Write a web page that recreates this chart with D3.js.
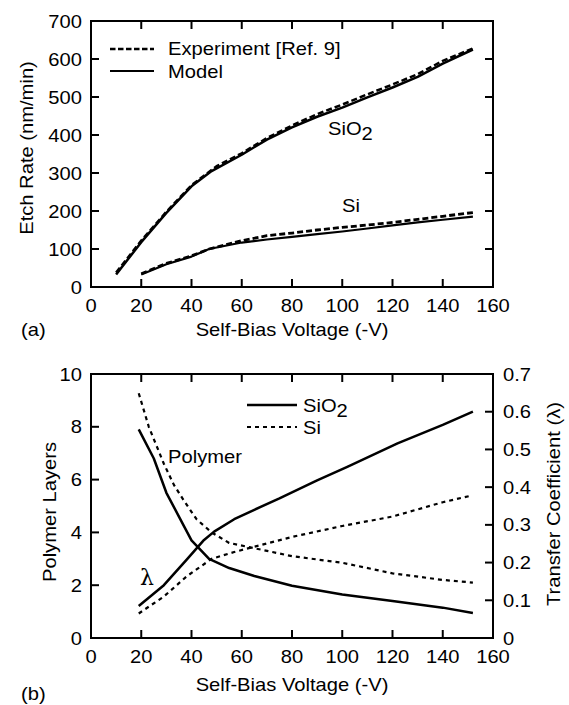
<!DOCTYPE html>
<html>
<head>
<meta charset="utf-8">
<script src="https://cdn.jsdelivr.net/npm/d3@7"></script>
<style>
  body { margin: 0; background: #fff; }
  text { font-family: "Liberation Sans", Arial, sans-serif; fill: #000; }
</style>
</head>
<body>
<div id="chart"></div>
<script>
// ---- data ----
var siO2ExpV   = [10, 20, 30, 40, 50, 60, 70, 80, 90, 100, 110, 120, 130, 140, 152];
var siO2ExpR   = [38, 122, 198, 268, 318, 352, 392, 425, 455, 480, 507, 533, 560, 595, 628];
var siO2ModV   = [10, 20, 30, 40, 48, 60, 70, 80, 90, 100, 110, 120, 130, 140, 152];
var siO2ModR   = [33, 118, 195, 265, 305, 348, 388, 420, 448, 472, 499, 525, 553, 588, 625];
var siExpV     = [20, 30, 40, 47, 60, 70, 80, 90, 100, 110, 120, 130, 140, 152];
var siExpR     = [35, 62, 82, 100, 122, 135, 142, 150, 157, 163, 170, 178, 186, 196];
var siModV     = [20, 30, 40, 47, 60, 70, 80, 90, 100, 110, 120, 130, 140, 152];
var siModR     = [33, 60, 80, 100, 117, 125, 132, 139, 146, 154, 162, 170, 177, 185];

var polySiO2V  = [19, 25, 30, 35, 40, 47, 55, 65, 80, 100, 120, 140, 152];
var polySiO2   = [7.9, 6.8, 5.5, 4.6, 3.7, 3.0, 2.65, 2.35, 1.98, 1.65, 1.4, 1.15, 0.95];
var polySiV    = [19, 23, 29, 33, 37, 42, 48, 55, 65, 80, 100, 120, 140, 152];
var polySi     = [9.27, 8.0, 6.6, 5.8, 5.2, 4.5, 4.0, 3.6, 3.4, 3.1, 2.85, 2.45, 2.2, 2.1];
var lamSiO2V   = [19, 29, 38, 45, 49, 57, 65, 75, 90, 102, 122, 140, 152];
var lamSiO2    = [0.085, 0.14, 0.207, 0.26, 0.282, 0.315, 0.34, 0.37, 0.418, 0.454, 0.516, 0.565, 0.60];
var lamSiV     = [19, 29, 38, 48, 57, 65, 80, 100, 120, 140, 151];
var lamSi      = [0.065, 0.11, 0.163, 0.21, 0.228, 0.242, 0.268, 0.297, 0.322, 0.36, 0.377];

var xTicks = [0, 20, 40, 60, 80, 100, 120, 140, 160];
var rateTicks = [0, 100, 200, 300, 400, 500, 600, 700];
var layerTicks = [0, 2, 4, 6, 8, 10];
var lamTicks = [0, 0.1, 0.2, 0.3, 0.4, 0.5, 0.6, 0.7];

var W = 569, H = 705;
var fs = 18, sx = 1.12;   // scanned text looks slightly wide

var svg = d3.select("#chart").append("svg")
    .attr("width", W)
    .attr("height", H);

function label(g, x, y, str, anchor, rot) {
    var t = g.append("g")
        .attr("transform", "translate(" + x + "," + y + ")" + (rot ? " rotate(" + rot + ")" : "") + " scale(" + sx + ",1)")
        .append("text")
        .attr("font-size", fs)
        .attr("text-anchor", anchor || "start")
        .text(str);
    return t;
}

function pts(xs, ys) { return xs.map((v, i) => [v, ys[i]]); }

function frame(box, x, yL, yR, leftTicks, rightTicks, leftFmt, rightFmt) {
    var g = svg.append("g");
    var tl = 8;
    // inward ticks on all four sides
    g.selectAll(".xb").data(xTicks.slice(1, -1)).enter().append("line")
        .attr("x1", d => x(d)).attr("x2", d => x(d))
        .attr("y1", box.b).attr("y2", box.b - tl);
    g.selectAll(".xt").data(xTicks.slice(1, -1)).enter().append("line")
        .attr("x1", d => x(d)).attr("x2", d => x(d))
        .attr("y1", box.t).attr("y2", box.t + tl);
    g.selectAll(".yl").data(leftTicks.slice(1, -1)).enter().append("line")
        .attr("x1", box.l).attr("x2", box.l + tl)
        .attr("y1", d => yL(d)).attr("y2", d => yL(d));
    g.selectAll(".yr").data(rightTicks.slice(1, -1)).enter().append("line")
        .attr("x1", box.r).attr("x2", box.r - tl)
        .attr("y1", d => yR(d)).attr("y2", d => yR(d));
    g.selectAll("line").attr("stroke", "#000").attr("stroke-width", 2);
    g.append("rect")
        .attr("x", box.l).attr("y", box.t)
        .attr("width", box.r - box.l).attr("height", box.b - box.t)
        .attr("fill", "none").attr("stroke", "#000").attr("stroke-width", 2);

    xTicks.forEach(d => label(g, x(d), box.b + 25, String(d), "middle"));
    leftTicks.forEach(d => label(g, box.l - 9, yL(d) + 6.5, leftFmt(d), "end"));
    if (rightFmt) rightTicks.forEach(d => label(g, box.r + 10, yR(d) + 6.5, rightFmt(d), "start"));
    return g;
}

function curve(xs, ys, x, y, dash, w) {
    var line = d3.line().x(d => x(d[0])).y(d => y(d[1]));
    svg.append("path")
        .datum(pts(xs, ys))
        .attr("d", line)
        .attr("fill", "none")
        .attr("stroke", "#000")
        .attr("stroke-width", w)
        .attr("stroke-linejoin", "round")
        .attr("stroke-dasharray", dash);
}

// ---- panel (a) ----
var boxA = { l: 91, r: 493, t: 21, b: 287 };
var xA = d3.scaleLinear().domain([0, 160]).range([boxA.l, boxA.r]);
var yA = d3.scaleLinear().domain([0, 700]).range([boxA.b, boxA.t]);

frame(boxA, xA, yA, yA, rateTicks, rateTicks, d => String(d), null);

curve(siO2ModV, siO2ModR, xA, yA, null, 2.5);
curve(siO2ExpV, siO2ExpR, xA, yA, "6,3", 2.5);
curve(siModV, siModR, xA, yA, null, 2.2);
curve(siExpV, siExpR, xA, yA, "6,3", 2.8);

// legend (a)
svg.append("line").attr("x1", 110).attr("x2", 154).attr("y1", 49).attr("y2", 49)
    .attr("stroke", "#000").attr("stroke-width", 2.5).attr("stroke-dasharray", "5.5,2.5");
svg.append("line").attr("x1", 110).attr("x2", 154).attr("y1", 71).attr("y2", 71)
    .attr("stroke", "#000").attr("stroke-width", 2);
label(svg, 168, 55, "Experiment [Ref. 9]");
label(svg, 168, 78, "Model");

var s1 = label(svg, 328, 135, "SiO");
s1.append("tspan").attr("dy", 5).text("2");
label(svg, 342, 212, "Si");

label(svg, 21, 336, "(a)");
label(svg, 292, 336, "Self-Bias Voltage (-V)", "middle");
label(svg, 33, 148, "Etch Rate (nm/min)", "middle", -90);

// ---- panel (b) ----
var boxB = { l: 91, r: 493, t: 374, b: 638 };
var xB = d3.scaleLinear().domain([0, 160]).range([boxB.l, boxB.r]);
var yB = d3.scaleLinear().domain([0, 10]).range([boxB.b, boxB.t]);
var yB2 = d3.scaleLinear().domain([0, 0.7]).range([boxB.b, boxB.t]);

frame(boxB, xB, yB, yB2, layerTicks, lamTicks, d => String(d), d => d === 0 ? "0" : d3.format(".1f")(d));

curve(polySiO2V, polySiO2, xB, yB, null, 2.5);
curve(polySiV, polySi, xB, yB, "4,4", 2.2);
curve(lamSiO2V, lamSiO2, xB, yB2, null, 2.5);
curve(lamSiV, lamSi, xB, yB2, "4,4", 2.2);

// legend (b)
svg.append("line").attr("x1", 247).attr("x2", 297).attr("y1", 405).attr("y2", 405)
    .attr("stroke", "#000").attr("stroke-width", 2.5);
svg.append("line").attr("x1", 247).attr("x2", 297).attr("y1", 427).attr("y2", 427)
    .attr("stroke", "#000").attr("stroke-width", 2).attr("stroke-dasharray", "4,4");
var s2 = label(svg, 303, 412, "SiO");
s2.append("tspan").attr("dy", 5).text("2");
label(svg, 303, 434, "Si");

label(svg, 168, 463, "Polymer");
svg.append("text")
    .attr("x", 140).attr("y", 585)
    .attr("font-size", 22)
    .style("font-family", "'DejaVu Serif', 'Liberation Serif', serif")
    .text("\u03bb");

label(svg, 21, 700, "(b)");
label(svg, 292, 691, "Self-Bias Voltage (-V)", "middle");
label(svg, 56, 512, "Polymer Layers", "middle", -90);
label(svg, 560, 504, "Transfer Coefficient (\u03bb)", "middle", -90);
</script>
</body>
</html>
